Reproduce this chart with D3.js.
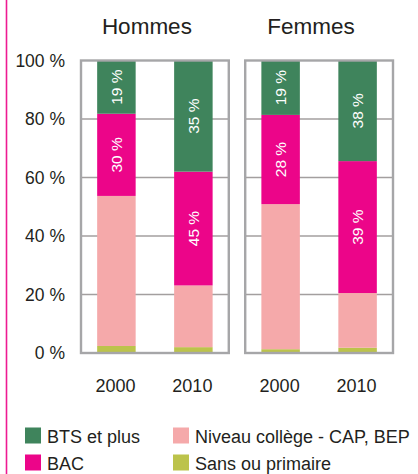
<!DOCTYPE html>
<html>
<head>
<meta charset="utf-8">
<script src="https://cdn.jsdelivr.net/npm/d3@7"></script>
<style>
  html, body { margin: 0; padding: 0; background: #fff; }
  svg { display: block; font-family: "Liberation Sans", Arial, sans-serif; }
</style>
</head>
<body>
<svg id="chart" width="418" height="474"></svg>
<script>
// ---- data ----
const groups = ["Hommes", "Femmes"];
const years = ["2000", "2010"];
const seriesNames = ["Sans ou primaire", "Niveau collège - CAP, BEP", "BAC", "BTS et plus"];
// values per bar: Hommes 2000, Hommes 2010, Femmes 2000, Femmes 2010
const sansPrimaire = [2.4, 2.0, 1.3, 1.8];
const college = [51.3, 21.1, 49.6, 18.7];
const bac = [28.1, 38.9, 30.5, 45.1];
const bts = [18.2, 38.0, 18.6, 34.4];
const bacLabels = ["30 %", "45 %", "28 %", "39 %"];
const btsLabels = ["19 %", "35 %", "19 %", "38 %"];
const yTicks = [0, 20, 40, 60, 80, 100];
const legendOrder = ["BTS et plus", "BAC", "Niveau collège - CAP, BEP", "Sans ou primaire"];

const colors = {
  "Sans ou primaire": "#bcc34b",
  "Niveau collège - CAP, BEP": "#f5a9aa",
  "BAC": "#ec0589",
  "BTS et plus": "#3f845c"
};
const textColor = "#231f20";
const frameColor = "#a6a6a8";

const svg = d3.select("#chart");

// left pink rule
svg.append("line").attr("x1", 6.5).attr("x2", 6.5).attr("y1", 0).attr("y2", 474)
  .attr("stroke", "#ee1a92").attr("stroke-width", 1.6);

const y = d3.scaleLinear().domain([0, 100]).range([353, 60.5]);
const panelX = d3.scaleBand().domain(groups).range([81, 393]).paddingInner(0.1).paddingOuter(0);

const valuesBySeries = {
  "Sans ou primaire": sansPrimaire,
  "Niveau collège - CAP, BEP": college,
  "BAC": bac,
  "BTS et plus": bts
};

groups.forEach((g, gi) => {
  const x0 = panelX(g), x1 = x0 + panelX.bandwidth();
  const x = d3.scaleBand().domain(years).range([x0, x1]).paddingInner(0.5).paddingOuter(0.21);
  const p = svg.append("g");

  // gridlines
  p.selectAll("line.grid").data(yTicks.filter(t => t > 0 && t < 100)).join("line")
    .attr("x1", x0).attr("x2", x1)
    .attr("y1", d => y(d)).attr("y2", d => y(d))
    .attr("stroke", "#a39f9f").attr("stroke-width", 1.5);

  // stacked bars
  years.forEach((yr, yi) => {
    const idx = gi * 2 + yi;
    let cum = 0;
    seriesNames.forEach(s => {
      const v = valuesBySeries[s][idx];
      p.append("rect")
        .attr("x", x(yr)).attr("width", x.bandwidth())
        .attr("y", y(cum + v)).attr("height", y(cum) - y(cum + v))
        .attr("fill", colors[s]);
      let label = null;
      if (s === "BAC") label = bacLabels[idx];
      if (s === "BTS et plus") label = btsLabels[idx];
      if (label) {
        const cx = x(yr) + x.bandwidth() / 2;
        const cy = y(cum + v / 2);
        p.append("text")
          .attr("transform", `translate(${cx + 5.5},${cy}) rotate(-90)`)
          .attr("text-anchor", "middle")
          .attr("fill", "#fff").attr("font-size", 15.5)
          .text(label);
      }
      cum += v;
    });
    // year label
    p.append("text")
      .attr("x", x(yr) + x.bandwidth() / 2 - 1).attr("y", 391.5)
      .attr("text-anchor", "middle").attr("fill", textColor).attr("font-size", 18)
      .text(yr);
  });

  // frame
  p.append("rect").attr("x", x0).attr("y", y(100)).attr("width", x1 - x0).attr("height", y(0) - y(100))
    .attr("fill", "none").attr("stroke", frameColor).attr("stroke-width", 2.4);

  // title
  p.append("text").attr("x", (x0 + x1) / 2 - 8).attr("y", 34)
    .attr("text-anchor", "middle").attr("fill", textColor).attr("font-size", 22.5)
    .text(g);
});

// y axis labels
const yAxis = d3.axisLeft(y).tickValues(yTicks).tickSize(0).tickPadding(16).tickFormat(d => d + " %");
const ya = svg.append("g").attr("transform", `translate(81,0)`).call(yAxis);
ya.select(".domain").remove();
ya.selectAll("text").attr("fill", textColor).attr("font-size", 17.5)
  .attr("font-family", "'Liberation Sans', Arial, sans-serif");

// legend
const legend = svg.append("g");
legendOrder.forEach((name, i) => {
  const col = Math.floor(i / 2), row = i % 2;
  const lx = col === 0 ? 25 : 173;
  const ly = 427.5 + row * 27;
  legend.append("rect").attr("x", lx).attr("y", ly).attr("width", 16).attr("height", 16)
    .attr("fill", colors[name]);
  legend.append("text").attr("x", lx + 22).attr("y", ly + 15)
    .attr("fill", textColor).attr("font-size", 18).text(name);
});
</script>
</body>
</html>
